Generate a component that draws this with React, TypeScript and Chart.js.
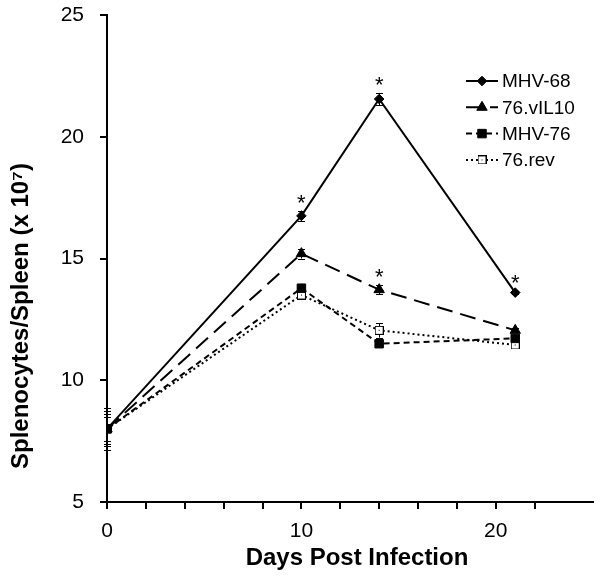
import React, { useEffect, useRef } from 'react';
import { Chart, registerables } from 'chart.js';
import { drawPoint } from 'chart.js/helpers';

Chart.register(...registerables);

// ---- data ----
const days = [0, 10, 14, 21];
const seriesNames = ['MHV-68', '76.vIL10', 'MHV-76', '76.rev'];
const mhv68 = [8.0, 16.75, 21.55, 13.6];
const vil10 = [8.0, 15.2, 13.72, 12.05];
const mhv76 = [8.0, 13.78, 11.5, 11.72];
const rev76 = [8.0, 13.5, 12.05, 11.45];
const mhv68Err = [0.85, 0.22, 0.25, 0.06];
const vil10Err = [0.72, 0.2, 0.18, 0.08];
const mhv76Err = [0.5, 0.15, 0.08, 0.08];
const rev76Err = [0.6, 0.18, 0.3, 0.06];
// significance markers: [series index, point index]
const starPoints = [[0, 1], [0, 2], [1, 2], [0, 3]];
const yTickValues = [5, 10, 15, 20, 25];
const xLabelledTicks = [0, 10, 20];
const xTitle = 'Days Post Infection';
const yTitle = 'Splenocytes/Spleen (x 10\u2077)';

const seriesValues = [mhv68, vil10, mhv76, rev76];
const seriesErrors = [mhv68Err, vil10Err, mhv76Err, rev76Err];

const FONT = '"Liberation Sans", Arial, sans-serif';

function makeOpenSquare(): HTMLCanvasElement {
  const c = document.createElement('canvas');
  c.width = 9;
  c.height = 9;
  const g = c.getContext('2d')!;
  g.fillStyle = '#fff';
  g.fillRect(0, 0, 9, 9);
  g.strokeStyle = '#000';
  g.lineWidth = 1;
  g.strokeRect(0.5, 0.5, 8, 8);
  g.fillStyle = '#000';
  g.fillRect(4, 4, 1, 1);
  return c;
}

export default function App() {
  const ref = useRef<HTMLCanvasElement | null>(null);

  useEffect(() => {
    document.body.style.margin = '0';
    const canvas = ref.current!;
    const openSq = makeOpenSquare();
    const styles = [
      { pointStyle: 'rectRot', radius: 4.8, dash: [] as number[], fill: '#000' },
      { pointStyle: 'triangle', radius: 6, dash: [16, 8], fill: '#000' },
      { pointStyle: 'rect', radius: 6, dash: [6, 4], fill: '#000' },
      { pointStyle: openSq as any, radius: 5, dash: [2, 3], fill: '#fff' },
    ];

    const datasets = seriesNames.map((name, i) => ({
      label: name,
      data: days.map((d, j) => ({ x: d, y: seriesValues[i][j] })),
      borderColor: '#000',
      backgroundColor: styles[i].fill,
      borderWidth: 2,
      borderDash: styles[i].dash,
      pointStyle: styles[i].pointStyle,
      pointRadius: styles[i].radius,
      pointBorderWidth: 1,
      pointBackgroundColor: styles[i].fill,
      pointBorderColor: '#000',
      tension: 0,
      fill: false,
    }));

    const errorBars = {
      id: 'errorBars',
      beforeDatasetsDraw(chart: any) {
        const ctx = chart.ctx;
        const ys = chart.scales.y;
        ctx.save();
        ctx.strokeStyle = '#000';
        ctx.lineWidth = 1;
        ctx.setLineDash([]);
        chart.data.datasets.forEach((ds: any, i: number) => {
          const meta = chart.getDatasetMeta(i);
          meta.data.forEach((pt: any, j: number) => {
            const v = ds.data[j].y;
            const e = seriesErrors[i][j];
            const t = ys.getPixelForValue(v + e);
            const b = ys.getPixelForValue(v - e);
            const x = Math.round(pt.x) + 0.5;
            ctx.beginPath();
            ctx.moveTo(x, t);
            ctx.lineTo(x, b);
            ctx.moveTo(x - 3.5, Math.round(t) + 0.5);
            ctx.lineTo(x + 3.5, Math.round(t) + 0.5);
            ctx.moveTo(x - 3.5, Math.round(b) + 0.5);
            ctx.lineTo(x + 3.5, Math.round(b) + 0.5);
            ctx.stroke();
          });
        });
        ctx.restore();
      },
    };

    const stars = {
      id: 'stars',
      afterDatasetsDraw(chart: any) {
        const ctx = chart.ctx;
        const ys = chart.scales.y;
        ctx.save();
        ctx.fillStyle = '#000';
        ctx.font = `22px ${FONT}`;
        ctx.textAlign = 'center';
        ctx.textBaseline = 'alphabetic';
        starPoints.forEach(([si, pj]) => {
          const pt = chart.getDatasetMeta(si).data[pj];
          const top = ys.getPixelForValue(seriesValues[si][pj] + seriesErrors[si][pj]);
          ctx.fillText('*', pt.x, top - 1);
        });
        ctx.restore();
      },
    };

    const axisTitles = {
      id: 'axisTitles',
      afterDraw(chart: any) {
        const ctx = chart.ctx;
        ctx.save();
        ctx.fillStyle = '#000';
        ctx.font = `bold 24px ${FONT}`;
        ctx.textAlign = 'center';
        ctx.textBaseline = 'middle';
        ctx.fillText(xTitle, 357, 558);
        ctx.translate(21, 316);
        ctx.rotate(-Math.PI / 2);
        ctx.fillText(yTitle, 0, 0);
        ctx.restore();
      },
    };

    const lineLegend = {
      id: 'lineLegend',
      afterDraw(chart: any) {
        const ctx = chart.ctx;
        const x0 = 466;
        const x1 = 498;
        const xm = 482;
        const y0 = 81;
        const dy = 26.3;
        ctx.save();
        chart.data.datasets.forEach((ds: any, i: number) => {
          const y = y0 + i * dy;
          ctx.strokeStyle = '#000';
          ctx.lineWidth = 2;
          ctx.setLineDash(styles[i].dash);
          ctx.beginPath();
          ctx.moveTo(x0, y);
          ctx.lineTo(x1, y);
          ctx.stroke();
          ctx.setLineDash([]);
          ctx.fillStyle = styles[i].fill;
          ctx.strokeStyle = '#000';
          ctx.lineWidth = 1;
          drawPoint(ctx, { pointStyle: styles[i].pointStyle, rotation: 0, radius: styles[i].radius, borderWidth: 1 } as any, xm, y);
          ctx.fillStyle = '#000';
          ctx.font = `19px ${FONT}`;
          ctx.textAlign = 'left';
          ctx.textBaseline = 'middle';
          ctx.fillText(ds.label, 502, y + 1);
        });
        ctx.restore();
      },
    };

    const chart = new Chart(canvas, {
      type: 'line',
      data: { datasets },
      options: {
        animation: false,
        responsive: false,
        layout: { padding: { top: 15, right: 6, left: 0, bottom: 0 } },
        plugins: { legend: { display: false }, tooltip: { enabled: false } },
        scales: {
          x: {
            type: 'linear',
            min: 0,
            max: 25,
            afterFit(scale: any) {
              scale.height = 77;
              scale.paddingLeft = 0;
              scale.paddingRight = 0;
            },
            afterBuildTicks(scale: any) {
              scale.ticks = scale.ticks.filter((t: any) => t.value % 2 === 0 && t.value <= 24);
            },
            ticks: {
              stepSize: 2,
              color: '#000',
              padding: 10,
              font: { family: FONT, size: 21 },
              maxRotation: 0,
              autoSkip: false,
              callback: (v: any) => (xLabelledTicks.includes(Number(v)) ? String(v) : ''),
            },
            grid: { drawOnChartArea: false, drawTicks: true, tickLength: 7, color: '#000', lineWidth: 2 },
            border: { display: true, color: '#000', width: 2 },
            title: { display: false },
          },
          y: {
            type: 'linear',
            min: 5,
            max: 25,
            afterFit(scale: any) {
              scale.width = 107;
              scale.paddingTop = 0;
              scale.paddingBottom = 0;
            },
            afterBuildTicks(scale: any) {
              scale.ticks = yTickValues.map((v) => ({ value: v }));
            },
            ticks: {
              color: '#000',
              padding: 16,
              font: { family: FONT, size: 21 },
            },
            grid: { drawOnChartArea: false, drawTicks: true, tickLength: 7, color: '#000', lineWidth: 2 },
            border: { display: true, color: '#000', width: 2 },
            title: { display: false },
          },
        },
      },
      plugins: [errorBars, stars, axisTitles, lineLegend],
    } as any);

    return () => chart.destroy();
  }, []);

  return (
    <div style={{ width: 600, height: 579 }}>
      <canvas ref={ref} width={600} height={579} style={{ display: 'block', width: 600, height: 579 }} />
    </div>
  );
}
